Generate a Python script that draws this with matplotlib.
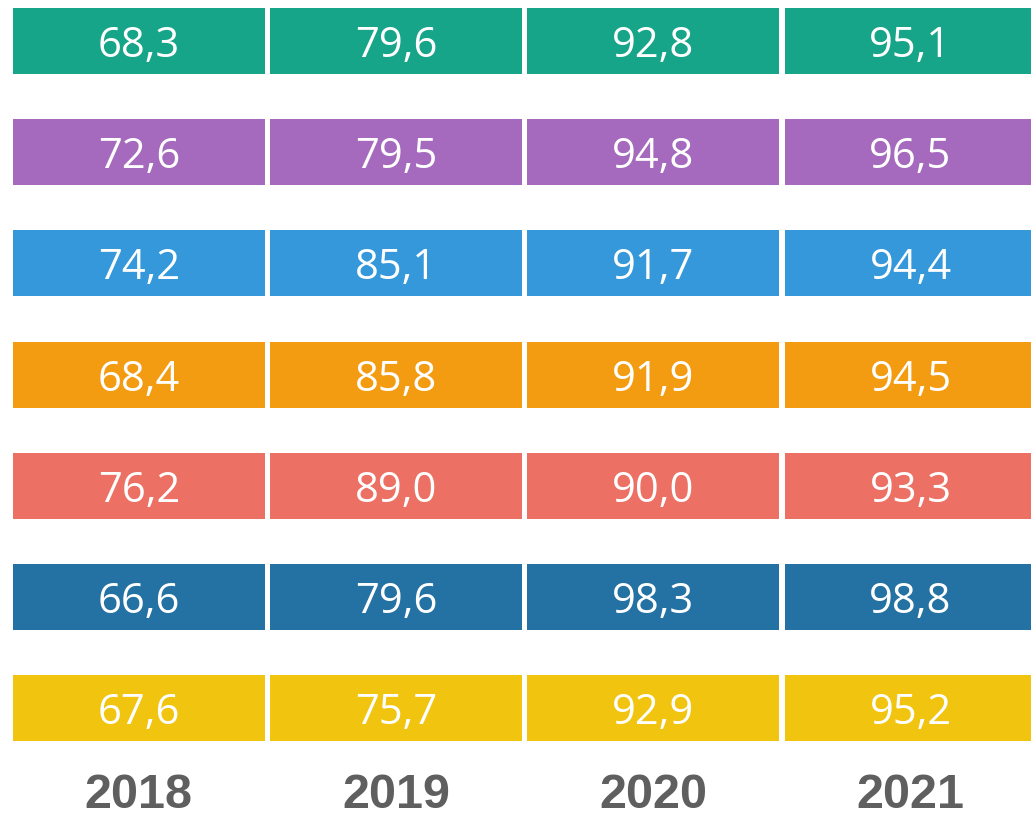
import matplotlib
matplotlib.use("Agg")
import matplotlib.pyplot as plt

years = ["2018", "2019", "2020", "2021"]
row_colors = ["#17A589", "#A569BD", "#3498DB", "#F39C12", "#EC7063", "#2471A3", "#F1C40F"]
row_values = [
    [68.3, 79.6, 92.8, 95.1],
    [72.6, 79.5, 94.8, 96.5],
    [74.2, 85.1, 91.7, 94.4],
    [68.4, 85.8, 91.9, 94.5],
    [76.2, 89.0, 90.0, 93.3],
    [66.6, 79.6, 98.3, 98.8],
    [67.6, 75.7, 92.9, 95.2],
]

W, H = 1031, 816
fig = plt.figure(figsize=(W / 100, H / 100), dpi=100)
ax = fig.add_axes([0, 0, 1, 1])

col_pitch = 257.2   # px per column
row_pitch = 111.17  # px per row
x0_px = 13
y0_px = 41          # center of first row
cell_w = 1 - 5.5 / col_pitch
cell_h = 66 / row_pitch

ax.set_xlim(-x0_px / col_pitch, (W - x0_px) / col_pitch)
ax.set_ylim((H - y0_px) / row_pitch, -y0_px / row_pitch)
ax.axis("off")

for r, (color, vals) in enumerate(zip(row_colors, row_values)):
    lefts = list(range(len(vals)))
    ax.barh([r] * len(vals), [cell_w] * len(vals), left=lefts, height=cell_h,
            color=color, edgecolor="none")
    for c, v in enumerate(vals):
        ax.text(c + cell_w / 2, r, f"{v:.1f}".replace(".", ","),
                ha="center", va="center_baseline", color="white",
                fontsize=30, family="Open Sans")

label_y = (795 - y0_px) / row_pitch
for c, yr in enumerate(years):
    ax.text(c + cell_w / 2, label_y, yr, ha="center", va="center",
            color="#5f5f5f", fontsize=35, fontweight="bold",
            family="Liberation Sans")

fig.savefig("out.png", dpi=100)
